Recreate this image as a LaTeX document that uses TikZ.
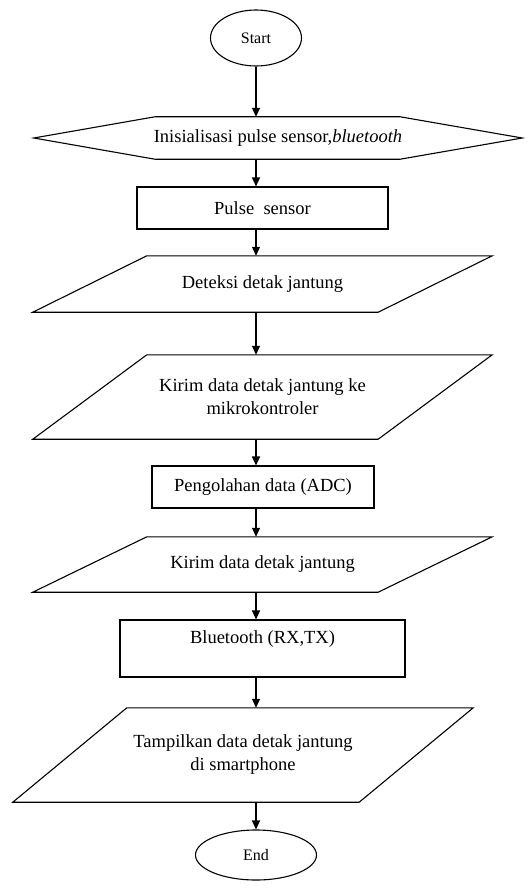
\documentclass[tikz,border=0pt]{standalone}
\usepackage{fontspec}
\setmainfont{Liberation Serif}
\usetikzlibrary{shapes.geometric,arrows.meta,calc}
\begin{document}
\begin{tikzpicture}[x=1pt,y=-1pt,
  lw/.style={line width=1.1pt},
  txt/.style={font=\fontsize{18.5}{23}\selectfont,align=center},
  box/.style={draw,lw,rectangle,inner sep=0pt,txt},
  ghost/.style={rectangle,inner sep=0pt,txt},
  term/.style={draw,lw,ellipse,inner sep=0pt,font=\fontsize{16}{19}\selectfont},
  outline/.style={draw,lw,line join=miter},
  arr/.style={lw,-{Triangle[length=9pt,width=8pt]}}]
\useasboundingbox (0,0) rectangle (530,888);

% terminals
\node[term,minimum width=91pt,minimum height=56pt] (start) at (256,38) {Start};
\node[term,minimum width=121pt,minimum height=50pt] (end) at (256,855) {End};

% preparation (hexagon)
\node[ghost,minimum width=488pt,minimum height=42pt] (hex) at (278,138)
  {Inisialisasi pulse sensor,\textit{bluetooth}};
\draw[outline] (hex.west) -- ($(hex.north west)+(121,0)$) -- ($(hex.north east)+(-122,0)$)
  -- (hex.east) -- ($(hex.south east)+(-122,0)$) -- ($(hex.south west)+(121,0)$) -- cycle;

% process boxes
\node[box,minimum width=251pt,minimum height=42pt] (pulse) at (262.5,208) {Pulse\ \ sensor};
\node[box,minimum width=222pt,minimum height=42pt] (adc) at (263,487) {Pengolahan data (ADC)};
\node[box,minimum width=285pt,minimum height=57pt] (bt) at (262.5,648.5) {Bluetooth (RX,TX)\\ \mbox{}};

% parallelograms
\node[ghost,minimum width=459pt,minimum height=56pt] (det) at (262.5,284) {Deteksi detak jantung};
\node[ghost,minimum width=459pt,minimum height=84pt] (kirim1) at (262.5,397)
  {Kirim data detak jantung ke\\mikrokontroler};
\node[ghost,minimum width=459pt,minimum height=55pt] (kirim2) at (262.5,564.5) {Kirim data detak jantung};
\node[ghost,minimum width=460pt,minimum height=94pt] (tamp) at (243,755)
  {Tampilkan data detak jantung\\di smartphone};

\foreach \n in {det,kirim1,kirim2,tamp}{
  \draw[outline] ($(\n.north west)+(114,0)$) -- (\n.north east)
    -- ($(\n.south east)+(-114,0)$) -- (\n.south west) -- cycle;
}

% connectors
\draw[arr] (start.south) -- (start.south |- hex.north);
\draw[arr] (start.south |- hex.south) -- (start.south |- pulse.north);
\draw[arr] (start.south |- pulse.south) -- (start.south |- det.north);
\draw[arr] (start.south |- det.south) -- (start.south |- kirim1.north);
\draw[arr] (start.south |- kirim1.south) -- (start.south |- adc.north);
\draw[arr] (start.south |- adc.south) -- (start.south |- kirim2.north);
\draw[arr] (start.south |- kirim2.south) -- (start.south |- bt.north);
\draw[arr] (start.south |- bt.south) -- (start.south |- tamp.north);
\draw[arr] (start.south |- tamp.south) -- (end.north);
\end{tikzpicture}
\end{document}
